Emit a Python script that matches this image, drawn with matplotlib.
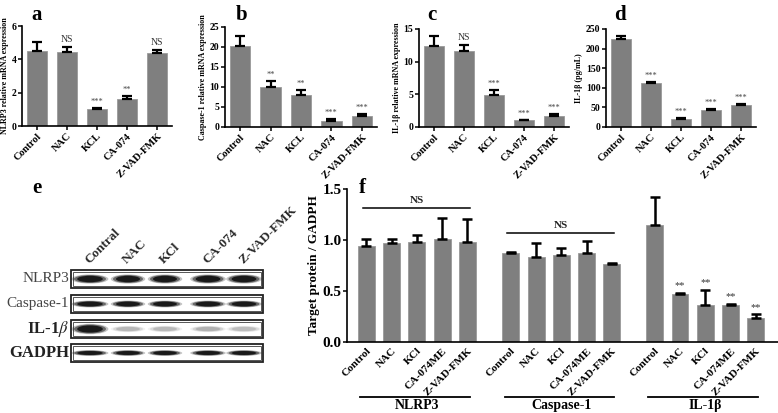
import numpy as np
import matplotlib
matplotlib.use("Agg")
import matplotlib.pyplot as plt
from matplotlib.patches import Ellipse, Rectangle
from matplotlib.transforms import blended_transform_factory

plt.rcParams["font.family"] = ["Liberation Serif", "DejaVu Serif"]
plt.rcParams["mathtext.fontset"] = "stix"

W, H = 778, 413
BAR = "#7f7f7f"

# ---- panels a-d (mRNA / ELISA) ----
groups = ["Control", "NAC", "KCL", "CA-074", "Z-VAD-FMK"]

nlrp3_mrna = [4.52, 4.45, 1.05, 1.60, 4.40]
nlrp3_mrna_err = [0.55, 0.28, 0.06, 0.18, 0.17]
nlrp3_mrna_sig = ["", "NS", "***", "**", "NS"]

casp1_mrna = [20.2, 10.1, 8.1, 1.6, 2.8]
casp1_mrna_err = [2.6, 1.4, 1.1, 0.3, 0.5]
casp1_mrna_sig = ["", "**", "**", "***", "***"]

il1b_mrna = [12.4, 11.7, 4.9, 1.0, 1.7]
il1b_mrna_err = [1.6, 0.9, 0.8, 0.12, 0.3]
il1b_mrna_sig = ["", "NS", "***", "***", "***"]

il1b_elisa = [224, 112, 21, 44, 55]
il1b_elisa_err = [8, 4, 2, 3, 3]
il1b_elisa_sig = ["", "***", "***", "***", "***"]

# ---- panel f (western blot quantification) ----
wb_targets = ["NLRP3", "Caspase-1", "IL-1\u03b2"]
wb_groups = ["Control", "NAC", "KCl", "CA-074ME", "Z-VAD-FMK"]
wb_ratio = [
    [0.94, 0.97, 0.985, 1.005, 0.98],
    [0.875, 0.83, 0.855, 0.875, 0.76],
    [1.15, 0.47, 0.36, 0.36, 0.235],
]
wb_ratio_err = [
    [0.07, 0.04, 0.065, 0.21, 0.225],
    [0.01, 0.14, 0.065, 0.115, 0.01],
    [0.27, 0.01, 0.15, 0.01, 0.035],
]
wb_sig = [["", "", "", "", ""], ["", "", "", "", ""], ["", "**", "**", "**", "**"]]
wb_ns = ["NS", "NS", ""]

# ---- panel e (blot image) ----
blot_rows = ["NLRP3", "Caspase-1", "IL-1$\\beta$", "GADPH"]
blot_lanes = ["Contral", "NAC", "KCl", "CA-074", "Z-VAD-FMK"]
blot_intensity = [
    [1.0, 1.0, 1.0, 1.0, 1.0],
    [1.0, 1.0, 0.95, 0.95, 1.0],
    [1.0, 0.28, 0.25, 0.35, 0.2],
    [1.0, 1.0, 1.0, 1.0, 1.0],
]

fig = plt.figure(figsize=(W / 100, H / 100), dpi=100)


def px_axes(left, top, right, bottom):
    return fig.add_axes([left / W, 1 - bottom / H, (right - left) / W, (bottom - top) / H])


def style_axes(ax, ysize, xsize):
    for s in ["top", "right"]:
        ax.spines[s].set_visible(False)
    for s in ["left", "bottom"]:
        ax.spines[s].set_linewidth(1.2)
    ax.tick_params(axis="both", width=1.1, length=3, pad=1)
    ax.tick_params(axis="y", labelsize=ysize)
    ax.tick_params(axis="x", labelsize=xsize)
    for lab in ax.get_yticklabels() + ax.get_xticklabels():
        lab.set_fontweight("bold")


def mrna_panel(box, vals, errs, sigs, ymax, step, ylabel, letter, letter_xy):
    ax = px_axes(*box)
    x = np.arange(len(vals))
    ax.bar(x, vals, width=0.67, color=BAR, edgecolor="#9a9a9a", linewidth=0.6, zorder=2)
    ax.errorbar(x, vals, yerr=[np.zeros(len(errs)), errs], fmt="none",
                ecolor="black", elinewidth=1.6, capsize=3.5, capthick=1.6, zorder=3)
    for xi, v, e, s in zip(x, vals, errs, sigs):
        if s == "NS":
            ax.annotate(s, (xi, v + e), xytext=(0, 2), textcoords="offset points",
                        ha="center", va="bottom", fontsize=7, color="#333333")
        elif s:
            ax.annotate(s, (xi, v + e), xytext=(0, 1.5), textcoords="offset points",
                        ha="center", va="bottom", fontsize=6, color="#444444")
    ax.set_xlim(-0.5, 4.5)
    ax.set_ylim(0, ymax)
    ax.set_yticks(np.arange(0, ymax + step / 2, step))
    ax.set_xticks(x)
    ax.set_xticklabels(groups, rotation=45, ha="right", rotation_mode="anchor")
    style_axes(ax, 7, 7.5)
    ax.set_ylabel(ylabel, fontsize=5.8, fontweight="bold", labelpad=2)
    fig.text(letter_xy[0] / W, 1 - letter_xy[1] / H, letter, fontsize=15,
             fontweight="bold", ha="center", va="center")
    return ax


mrna_panel((22, 26, 172, 126), nlrp3_mrna, nlrp3_mrna_err, nlrp3_mrna_sig, 6, 2,
           "NLRP3 relative mRNA expression", "a", (37, 15))
mrna_panel((225, 27, 377, 127), casp1_mrna, casp1_mrna_err, casp1_mrna_sig, 25, 5,
           "Caspase-1 relative mRNA expression", "b", (242, 15))
mrna_panel((419, 29, 569, 127), il1b_mrna, il1b_mrna_err, il1b_mrna_sig, 15, 5,
           "IL-1\u03b2 relative mRNA expression", "c", (432, 15))
mrna_panel((606, 29, 756, 127), il1b_elisa, il1b_elisa_err, il1b_elisa_sig, 250, 50,
           "IL-1\u03b2 (pg/mL)", "d", (620, 15))

# ---- panel e: blot drawing in pixel coordinates ----
axe = fig.add_axes([0, 0, 1, 1], zorder=-1)
axe.set_xlim(0, W)
axe.set_ylim(H, 0)
axe.axis("off")

lane_x = [90, 128, 165, 208, 244]
lane_w = [32, 30, 30, 31, 31]
row_top = [270, 295, 320, 344]
row_band_h = [8, 6, 9, 5]
box_h = 18
for r, name in enumerate(blot_rows):
    y0 = row_top[r]
    axe.add_patch(Rectangle((71, y0), 192, box_h, fill=False, lw=1.3, ec="#222222"))
    axe.add_patch(Rectangle((73, y0 + 2), 188, box_h - 4, fill=False, lw=0.7, ec="#555555"))
    yc = y0 + box_h / 2
    for c, lx in enumerate(lane_x):
        k = blot_intensity[r][c]
        col = "#111111" if k > 0.8 else "#9a9a9a"
        for scale, a in [(1.15, 0.25), (1.0, 0.5), (0.8, 0.9)]:
            axe.add_patch(Ellipse((lx, yc), lane_w[c] * scale,
                                  row_band_h[r] * scale * (1 if k > 0.8 else 0.6),
                                  color=col, alpha=a * min(1, k + 0.3), lw=0))
    bold = r >= 2
    axe.text(69, yc, name, ha="right", va="center",
             fontsize=12 if bold else 11, fontweight="bold" if bold else "normal",
             color="#222222" if bold else "#444444")
for lx, lab in zip(lane_x, blot_lanes):
    axe.text(lx + 1, 266, lab, rotation=45, rotation_mode="anchor", ha="left",
             va="bottom", fontsize=9.5, fontweight="bold", color="#2a2a2a")
axe.text(37, 188, "e", fontsize=15, fontweight="bold", ha="center", va="center")

# ---- panel f ----
axf = px_axes(347, 189, 778, 342)
group_base = [0.0, 5.72, 11.42]
trans = blended_transform_factory(axf.transData, axf.transAxes)
for g, base in enumerate(group_base):
    x = base + np.arange(len(wb_groups))
    vals = wb_ratio[g]
    errs = wb_ratio_err[g]
    axf.bar(x, vals, width=0.67, color=BAR, edgecolor="#9a9a9a", linewidth=0.6, zorder=2)
    axf.errorbar(x, vals, yerr=[np.zeros(len(errs)), errs], fmt="none", ecolor="black",
                 elinewidth=1.8, capsize=3.5, capthick=1.8, zorder=3)
    for xi, v, e, s in zip(x, vals, errs, wb_sig[g]):
        if s:
            axf.annotate(s, (xi, v + e), xytext=(0, 2), textcoords="offset points",
                         ha="center", va="bottom", fontsize=7.5, color="#333333")
    if wb_ns[g]:
        ytop = max(v + e for v, e in zip(vals, errs)) + 0.1
        if g == 1:
            ytop = 1.07
        axf.plot([base - 0.14, base + 4.1], [ytop, ytop], color="black", lw=1.1)
        axf.text(base + 2, ytop + 0.03, wb_ns[g], ha="center", va="bottom",
                 fontsize=8, fontweight="bold", color="#222222")
    axf.plot([base - 0.25, base + 4.1], [-0.36, -0.36], color="black", lw=1.3,
             transform=trans, clip_on=False)
    axf.text(base + 2, -0.375, wb_targets[g], ha="center", va="top", fontsize=10,
             fontweight="bold", transform=trans)

xt = np.concatenate([b + np.arange(len(wb_groups)) for b in group_base])
axf.set_xticks(xt)
axf.set_xticklabels(wb_groups * 3, rotation=45, ha="right", rotation_mode="anchor")
axf.set_xlim(-0.77, 16.3)
axf.set_ylim(0, 1.5)
axf.set_yticks([0, 0.5, 1.0, 1.5])
axf.set_yticklabels(["0.0", "0.5", "1.0", "1.5"])
style_axes(axf, 11, 8)
axf.tick_params(axis="x", length=0, pad=3)
axf.set_ylabel("Target protein / GADPH", fontsize=9.5, fontweight="bold", labelpad=2)
fig.text(362 / W, 1 - 188 / H, "f", fontsize=15, fontweight="bold", ha="center", va="center")

fig.savefig("out.png", dpi=100)
